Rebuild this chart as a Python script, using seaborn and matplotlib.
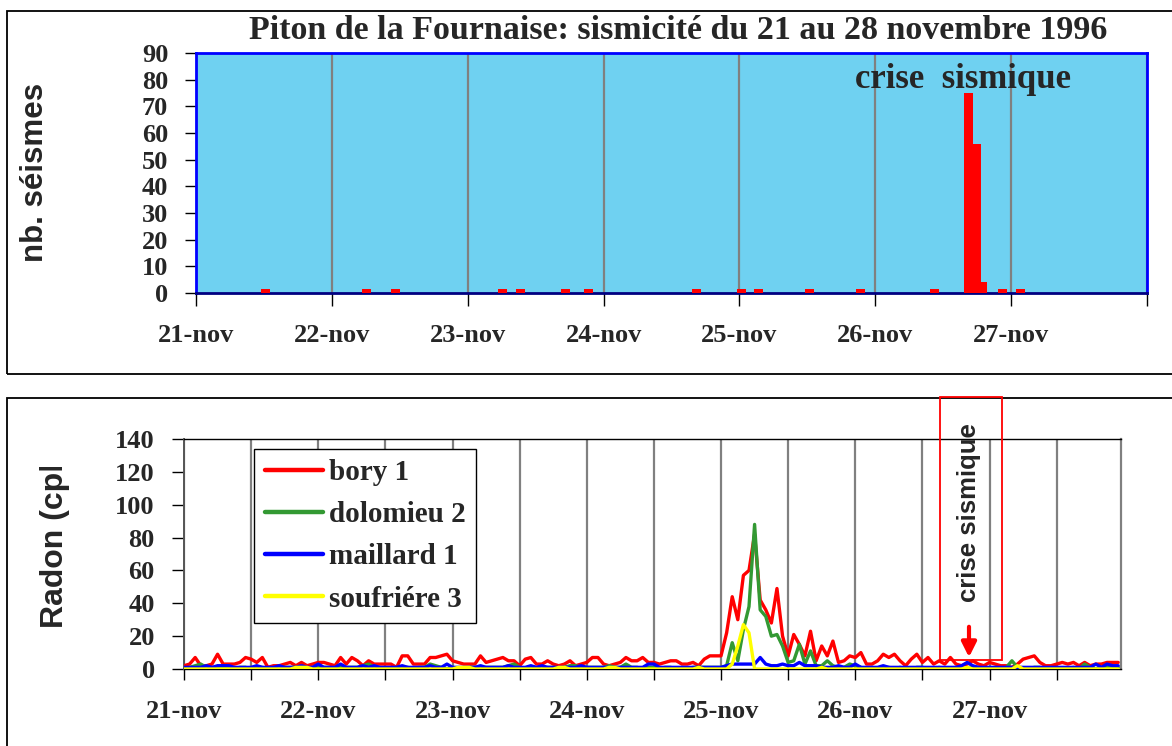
import matplotlib
matplotlib.use("Agg")
import matplotlib.pyplot as plt
from matplotlib.patches import Rectangle
from matplotlib.transforms import Bbox, TransformedBbox
import numpy as np
import pandas as pd
import seaborn as sns

# sismicité : heure depuis le 21-nov 00h, nombre de séismes
seisme_heure = [12.2, 30.1, 35.2, 54.2, 57.3, 65.3, 69.3, 88.4, 96.3, 99.4,
                108.3, 117.4, 130.4, 136.4, 137.8, 138.9, 142.4, 145.6]
seisme_nb = [1.5, 1.5, 1.5, 1.5, 1.5, 1.5, 1.5, 1.5, 1.5, 1.5,
             1.5, 1.5, 1.5, 75, 56, 4, 1.5, 1.5]

jours = ['21-nov', '22-nov', '23-nov', '24-nov', '25-nov', '26-nov', '27-nov']

# radon, mesures horaires du 21-nov 00h au 27-nov 23h
bory1 = [2, 3, 7, 2, 2, 3, 9, 3, 3, 3, 4, 7, 6, 4, 7, 1, 2, 2, 3, 4, 2, 4, 2, 3,
         4, 4, 3, 2, 7, 3, 7, 5, 2, 5, 3, 3, 3, 3, 1, 8, 8, 3,
         3, 3, 7, 7, 8, 9, 5, 4, 3, 3, 3, 8, 4, 5, 6, 7, 5, 5, 2, 6, 7, 3, 3, 5,
         3, 2, 3, 5, 2, 3, 4, 7, 7, 3, 2, 3, 4, 7, 5, 5, 7, 4,
         4, 3, 4, 5, 5, 3, 3, 4, 2, 6, 8, 8, 8, 22, 44, 30, 57, 60, 82, 42,
         36, 28, 49, 20, 8, 21, 15, 8, 23, 5, 14, 8, 17, 4, 5, 8, 7, 10, 3, 3,
         5, 9, 7,
         9, 5, 2, 6, 9, 4, 7, 3, 5, 3, 7, 3, 2, 3, 5, 3, 2, 4, 3, 2, 2, 1, 3, 6,
         7, 8, 4, 2, 2, 3, 4, 3, 4, 2, 4, 2, 3, 3, 4, 4, 4]
dolomieu2 = [0, 1, 2, 3, 1, 0, 1, 1, 1, 0, 1, 1, 0, 1, 1, 0, 0, 0, 1, 1, 1, 0, 0, 1,
             1, 1, 1, 0, 1, 1, 1, 1, 2, 3, 1, 1, 0, 0, 1, 1, 1, 0,
             1, 1, 3, 2, 1, 0, 1, 0, 0, 1, 1, 0, 1, 1, 1, 1, 2, 3, 1, 0, 1, 0, 0, 1,
             1, 0, 1, 2, 2, 1, 1, 1, 1, 1, 2, 1, 1, 3, 1, 1, 0, 1,
             1, 0, 1, 1, 0, 1, 0, 1, 1, 1, 1, 1, 1, 2, 16, 5, 24, 38, 88, 36,
             32, 20, 21, 14, 4, 5, 15, 3, 11, 2, 2, 5, 2, 1, 1, 3, 2, 1, 0, 1,
             0, 1, 1,
             0, 1, 0, 0, 1, 1, 0, 0, 1, 0, 0, 1, 0, 0, 1, 1, 0, 0, 1, 0, 1, 5, 1, 0,
             0, 1, 1, 0, 1, 0, 0, 0, 1, 0, 3, 1, 0, 1, 1, 1, 1]
maillard1 = [1, 1, 1, 1, 2, 1, 2, 2, 2, 1, 1, 1, 1, 2, 1, 1, 1, 2, 1, 1, 1, 2, 1, 1,
             3, 1, 1, 1, 3, 1, 1, 1, 2, 1, 2, 1, 1, 1, 1, 2, 1, 1,
             1, 1, 2, 1, 1, 3, 1, 1, 1, 1, 1, 2, 1, 1, 1, 1, 2, 1, 1, 1, 2, 1, 2, 1,
             1, 1, 1, 1, 1, 2, 1, 1, 1, 1, 1, 1, 1, 1, 1, 1, 1, 3,
             3, 1, 1, 1, 1, 1, 1, 1, 1, 1, 1, 1, 1, 2, 3, 3, 3, 3, 3, 7,
             3, 2, 2, 3, 2, 2, 4, 2, 2, 2, 1, 1, 1, 2, 1, 1, 3, 1, 1, 1,
             1, 2, 1,
             1, 1, 1, 1, 1, 1, 1, 1, 1, 1, 1, 1, 2, 4, 2, 1, 1, 1, 1, 1, 1, 1, 1, 1,
             1, 1, 1, 1, 1, 1, 1, 1, 1, 1, 1, 1, 3, 1, 3, 2, 2]
soufriere3 = [0, 0, 0, 0, 0, 0, 0, 0, 0, 0, 0, 0, 0, 0, 0, 0, 0, 0, 0, 0, 1, 1, 1, 0,
              0, 0, 0, 0, 0, 0, 0, 0, 0, 0, 0, 0, 0, 0, 0, 0, 0, 0,
              0, 0, 0, 0, 0, 0, 0, 1, 1, 1, 0, 0, 0, 0, 0, 0, 0, 0, 0, 0, 0, 0, 0, 0,
              0, 1, 1, 0, 0, 0, 0, 0, 0, 0, 1, 1, 0, 0, 0, 0, 0, 0,
              0, 0, 0, 0, 0, 0, 0, 0, 1, 0, 0, 0, 0, 0, 3, 14, 27, 22, 0, 0,
              0, 0, 0, 0, 0, 0, 0, 0, 0, 0, 1, 0, 0, 0, 0, 0, 0, 0, 0, 0,
              0, 0, 0,
              0, 0, 0, 0, 0, 0, 0, 0, 0, 0, 0, 0, 0, 1, 0, 0, 0, 0, 0, 0, 0, 0, 2, 0,
              0, 0, 0, 0, 0, 0, 0, 0, 0, 0, 0, 0, 0, 0, 0, 0, 0]
stations = ['bory 1', 'dolomieu 2', 'maillard 1', 'soufriére 3']
couleurs = ['#ff0000', '#339933', '#0000ff', '#ffff00']

W, H = 1172, 746
sns.set_style("white")
plt.rcParams['font.family'] = ['Liberation Serif', 'DejaVu Serif']
plt.rcParams['font.weight'] = 'bold'

fig = plt.figure(figsize=(W / 100, H / 100), dpi=100)

# cadres des deux panneaux
fig.add_artist(Rectangle((7 / W, 1 - 374 / H), 1.2, 363 / H, transform=fig.transFigure,
                         fill=False, ec='black', lw=1.3))
fig.add_artist(Rectangle((7 / W, -0.1), 1.2, 348 / H + 0.1, transform=fig.transFigure,
                         fill=False, ec='black', lw=1.3))

# ---- panneau du haut : nombre de séismes
ax1 = fig.add_axes([196 / W, 1 - 293 / H, 951 / W, 240 / H])
ax1.set_facecolor('#6fd1f1')
ax1.bar(seisme_heure, seisme_nb, width=1.6, color='#ff0000', edgecolor='none',
        linewidth=0, zorder=3)
ax1.set_xlim(0, 168)
ax1.set_ylim(0, 90)
ax1.set_xticks(np.arange(0, 169, 24))
ax1.set_xticklabels(jours + [''])
ax1.set_yticks(range(0, 91, 10))
ax1.xaxis.grid(True, color='#808080', lw=1.6, zorder=1)
ax1.yaxis.grid(False)
ax1.set_axisbelow(True)
for s in ax1.spines.values():
    s.set_color('#0000ff')
    s.set_linewidth(2)
ax1.spines['bottom'].set_color('#000080')
ax1.tick_params(axis='x', direction='out', length=9, width=1, color='black',
                pad=13, labelsize=19, bottom=True)
ax1.tick_params(axis='y', direction='out', length=8, width=1, color='black',
                pad=12, labelsize=19, left=True)

fig.text(678 / W, 1 - 39 / H, 'Piton de la Fournaise: sismicité du 21 au 28 novembre 1996',
         ha='center', va='baseline', fontsize=24.5, fontweight='bold')
fig.text(855 / W, 1 - 88 / H, 'crise  sismique', ha='left', va='baseline',
         fontsize=25, fontweight='bold')
fig.text(35 / W, 1 - 172 / H, 'nb. séismes', rotation=90, ha='center', va='center',
         family='Liberation Sans', fontweight='bold', fontsize=22.5)

# ---- panneau du bas : radon
heures = np.arange(len(bory1))
df = pd.DataFrame({'heure': np.tile(heures, 4),
                   'radon': bory1 + dolomieu2 + maillard1 + soufriere3,
                   'station': np.repeat(stations, len(bory1))})

ax2 = fig.add_axes([184 / W, 1 - 669 / H, 937 / W, 230 / H])
ax2.set_facecolor('white')
sns.lineplot(data=df, x='heure', y='radon', hue='station', hue_order=stations,
             palette=couleurs, lw=2.4, ax=ax2, zorder=3)
ax2.set_xlim(0, 167.5)
ax2.set_ylim(0, 140)
ax2.set_xlabel('')
ax2.set_ylabel('')
ax2.set_xticks(np.arange(0, 145, 24))
ax2.set_xticklabels(jours)
ax2.set_xticks(np.arange(12, 168, 24), minor=True)
ax2.set_yticks(range(0, 141, 20))
ax2.grid(True, which='both', axis='x', color='#808080', lw=1.6, zorder=1)
ax2.yaxis.grid(False)
ax2.spines['top'].set_color('black')
ax2.spines['top'].set_linewidth(1)
ax2.spines['right'].set_color('#808080')
ax2.spines['right'].set_linewidth(1.6)
ax2.spines['left'].set_color('#555555')
ax2.spines['left'].set_linewidth(1.4)
ax2.spines['bottom'].set_color('black')
ax2.spines['bottom'].set_linewidth(1)
ax2.tick_params(axis='x', which='both', direction='out', length=8, width=1,
                color='black', pad=14, labelsize=19, bottom=True)
ax2.tick_params(axis='y', direction='out', length=9, width=1, color='black',
                pad=12, labelsize=19, left=True)

handles, labels = ax2.get_legend_handles_labels()
for h in handles:
    h.set_linewidth(3.2)
leg = ax2.legend(handles, labels, loc='upper left', bbox_to_anchor=(0.0752, 0.957),
                 borderaxespad=0, frameon=True, fancybox=False, edgecolor='black',
                 framealpha=1, handlelength=2.0, handletextpad=0.2,
                 labelspacing=0.52, borderpad=0.35,
                 prop={'family': 'Liberation Serif', 'weight': 'bold', 'size': 21})
leg.get_frame().set_linewidth(1)

ylab = fig.text(55 / W, 1 - 628 / H, 'Radon (cph)', rotation=90, rotation_mode='anchor',
                ha='left', va='center', family='Liberation Sans', fontweight='bold',
                fontsize=23)
ylab.set_clip_box(TransformedBbox(Bbox([[0, 0], [1, 1 - 467 / H]]), fig.transFigure))
ylab.set_clip_on(True)

# crise sismique, encadré rouge
fig.add_artist(Rectangle((940 / W, 1 - 660 / H), 62 / W, 263 / H, transform=fig.transFigure,
                         fill=False, ec='#ff0000', lw=1.3))
fig.text(969 / W, 1 - 513 / H, 'crise sismique', rotation=90, ha='center', va='center',
         family='Liberation Sans', fontweight='bold', fontsize=18.5)
ax2.annotate('', xy=(969 / W, 1 - 660 / H), xytext=(969 / W, 1 - 624 / H),
             xycoords='figure fraction', textcoords='figure fraction',
             arrowprops=dict(arrowstyle='-|>', color='#ff0000', lw=3, mutation_scale=22))

fig.savefig('out.png', dpi=100)
